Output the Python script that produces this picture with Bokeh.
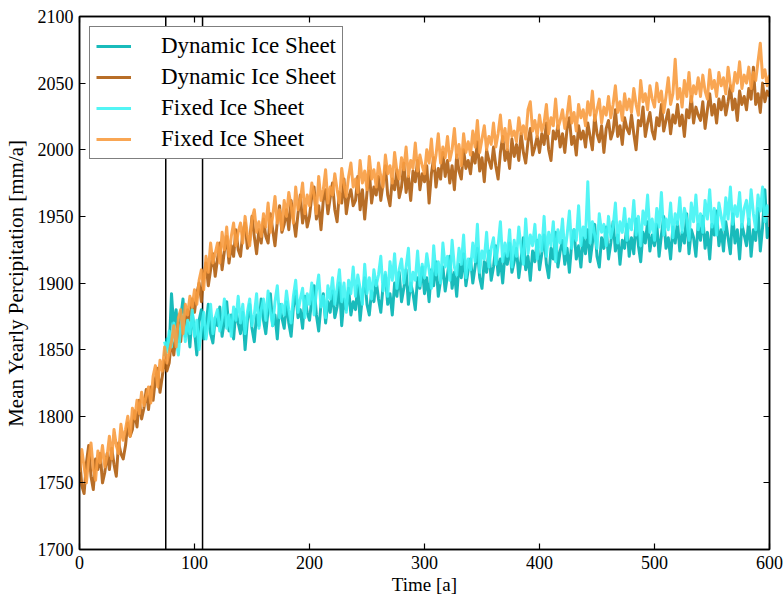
from bokeh.plotting import figure
from bokeh.models import (Legend, LegendItem, LinearAxis, SingleIntervalTicker, Span,
                          CustomJSTickFormatter)
from bokeh.embed import file_html
from bokeh.resources import INLINE

# ---------------------------------------------------------------------------
# Mean yearly precipitation [mm/a], one value every 2 years
# ---------------------------------------------------------------------------
step = 2
start_full = 0      # orange runs start at year 0
start_late = 74     # cyan runs start at year 74

dynamic_orange = [
    1770, 1748, 1742, 1765, 1778, 1755, 1745, 1768, 1760, 1772,
    1750, 1758, 1772, 1760, 1776, 1764, 1755, 1780, 1772, 1768,
    1778, 1795, 1785, 1790, 1804, 1792, 1812, 1798, 1806, 1820,
    1805, 1822, 1812, 1828, 1836, 1818, 1830, 1842, 1834, 1840,
    1858, 1846, 1862, 1870, 1856, 1875, 1868, 1880, 1872, 1888,
    1878, 1892, 1900, 1886, 1905, 1915, 1898, 1910, 1922, 1905,
    1918, 1930, 1910, 1924, 1935, 1915, 1928, 1920, 1940, 1925,
    1920, 1938, 1945, 1926, 1932, 1950, 1935, 1922, 1940, 1930,
    1948, 1935, 1930, 1952, 1940, 1928, 1946, 1958, 1938, 1944,
    1955, 1940, 1962, 1948, 1935, 1952, 1966, 1945, 1958, 1942,
    1950, 1965, 1972, 1948, 1958, 1940, 1962, 1970, 1952, 1964,
    1975, 1955, 1946, 1968, 1960, 1978, 1952, 1964, 1970, 1958,
    1962, 1980, 1955, 1970, 1948, 1968, 1984, 1960, 1972, 1966,
    1980, 1962, 1975, 1988, 1966, 1958, 1978, 1970, 1985, 1964,
    1972, 1990, 1968, 1980, 1962, 1984, 1976, 1992, 1970, 1982,
    1976, 1988, 1960, 1982, 1994, 1972, 1986, 1978, 1998, 1980,
    1992, 1975, 1988, 1970, 1996, 1984, 1978, 2000, 1986, 1992,
    1982, 1998, 1990, 2006, 1984, 1994, 1976, 2000, 1992, 1986,
    2002, 1988, 1978, 1998, 2010, 1992, 2000, 1986, 2008, 1995,
    2004, 1992, 2012, 1998, 1990, 2006, 2016, 1996, 2002, 2010,
    1998, 2012, 2004, 2020, 2000, 1992, 2014, 2008, 2018, 2002,
    2012, 1998, 2016, 2024, 2004, 2010, 1996, 2018, 2008, 2014,
    2002, 2020, 2010, 2000, 2026, 2012, 2006, 2018, 1998, 2016,
    2022, 2008, 2014, 2030, 2010, 2018, 2004, 2024, 2016, 2012,
    2026, 2012, 2000, 2022, 2018, 2032, 2010, 2020, 2028, 2014,
    2008, 2024, 2018, 2034, 2014, 2022, 2030, 2012, 2026, 2020,
    2034, 2018, 2026, 2010, 2030, 2024, 2040, 2020, 2032, 2026,
    2022, 2036, 2016, 2030, 2042, 2026, 2034, 2020, 2038, 2030,
    2040, 2026, 2036, 2048, 2030, 2038, 2022, 2044, 2034, 2040,
    2030, 2046, 2038, 2062, 2034, 2042, 2028, 2050, 2036, 2044,
    2040,
]

fixed_orange = [
    1758, 1775, 1762, 1750, 1768, 1780, 1760, 1752, 1774, 1765,
    1778, 1762, 1770, 1785, 1768, 1790, 1778, 1772, 1794, 1782,
    1790, 1800, 1785, 1806, 1798, 1812, 1802, 1818, 1808, 1815,
    1822, 1810, 1830, 1838, 1822, 1842, 1834, 1852, 1840, 1848,
    1856, 1868, 1852, 1874, 1880, 1862, 1884, 1876, 1890, 1882,
    1895, 1884, 1902, 1910, 1895, 1920, 1908, 1930, 1915, 1922,
    1930, 1915, 1938, 1925, 1942, 1920, 1935, 1945, 1928, 1938,
    1945, 1930, 1950, 1936, 1928, 1948, 1955, 1938, 1946, 1935,
    1952, 1942, 1960, 1938, 1950, 1965, 1945, 1955, 1940, 1962,
    1950, 1968, 1958, 1945, 1972, 1955, 1962, 1975, 1952, 1966,
    1958, 1975, 1966, 1952, 1980, 1962, 1970, 1985, 1960, 1972,
    1966, 1982, 1970, 1960, 1986, 1974, 1965, 1980, 1990, 1972,
    1978, 1968, 1992, 1975, 1984, 1970, 1995, 1978, 1985, 1972,
    1990, 1980, 1972, 1996, 1982, 1988, 1975, 1998, 1984, 1978,
    1994, 1985, 2002, 1980, 1992, 1986, 2005, 1984, 1996, 1988,
    1982, 2000, 1990, 2008, 1986, 1996, 2012, 1990, 2002, 1994,
    2010, 1992, 2000, 2016, 1994, 2004, 1988, 2012, 1998, 2006,
    1996, 2014, 2002, 2022, 1998, 2008, 2018, 2000, 2010, 2004,
    2020, 2002, 2012, 2026, 2006, 2016, 2000, 2022, 2010, 2014,
    2006, 2024, 2012, 2018, 2008, 2030, 2036, 2014, 2022, 2010,
    2026, 2014, 2020, 2034, 2012, 2024, 2018, 2038, 2016, 2022,
    2030, 2016, 2026, 2040, 2020, 2028, 2014, 2034, 2024, 2030,
    2018, 2036, 2026, 2044, 2022, 2030, 2038, 2020, 2032, 2026,
    2040, 2024, 2034, 2048, 2028, 2036, 2022, 2042, 2030, 2038,
    2028, 2046, 2034, 2026, 2052, 2036, 2042, 2030, 2048, 2038,
    2032, 2050, 2036, 2044, 2028, 2040, 2054, 2034, 2042, 2068,
    2038, 2046, 2032, 2052, 2040, 2058, 2036, 2048, 2042, 2054,
    2040, 2056, 2044, 2038, 2060, 2046, 2052, 2040, 2058, 2048,
    2054, 2042, 2062, 2048, 2044, 2058, 2050, 2066, 2046, 2056,
    2050, 2062, 2046, 2058, 2052, 2066, 2080, 2054, 2060, 2048,
    2056,
]

dynamic_cyan = [
    1845, 1858, 1850,
    1892, 1866, 1880, 1856, 1874, 1888, 1860, 1870, 1852, 1878,
    1864, 1846, 1872, 1880, 1858, 1868, 1884, 1862, 1855, 1874,
    1868, 1882, 1860, 1872, 1886, 1864, 1876, 1858, 1880, 1870,
    1862, 1878, 1850, 1872, 1884, 1866, 1856, 1876, 1868, 1888,
    1872, 1862, 1880, 1892, 1868, 1876, 1858, 1884, 1874, 1866,
    1886, 1870, 1860, 1882, 1894, 1874, 1880, 1866, 1890, 1878,
    1872, 1888, 1898, 1876, 1864, 1884, 1892, 1870, 1886, 1878,
    1894, 1874, 1882, 1900, 1868, 1888, 1880, 1896, 1876, 1886,
    1880, 1898, 1872, 1890, 1904, 1884, 1876, 1894, 1886, 1902,
    1888, 1878, 1898, 1906, 1884, 1892, 1876, 1900, 1890, 1908,
    1886, 1896, 1910, 1884, 1900, 1892, 1880, 1904, 1896, 1912,
    1892, 1904, 1886, 1910, 1898, 1916, 1890, 1902, 1912, 1894,
    1906, 1920, 1896, 1908, 1890, 1914, 1904, 1922, 1898, 1910,
    1918, 1900, 1912, 1926, 1904, 1896, 1916, 1908, 1924, 1902,
    1912, 1928, 1906, 1918, 1900, 1922, 1914, 1930, 1908, 1916,
    1926, 1904, 1918, 1934, 1910, 1920, 1902, 1924, 1916, 1932,
    1910, 1922, 1936, 1914, 1904, 1926, 1918, 1938, 1912, 1924,
    1932, 1914, 1926, 1908, 1930, 1940, 1918, 1928, 1912, 1934,
    1922, 1940, 1916, 1930, 1944, 1920, 1912, 1934, 1926, 1942,
    1918, 1930, 1946, 1924, 1936, 1914, 1932, 1926, 1944, 1920,
    1934, 1922, 1948, 1928, 1916, 1938, 1930, 1946, 1924, 1936,
    1928, 1944, 1920, 1936, 1950, 1926, 1934, 1918, 1942, 1930,
    1946, 1924, 1938, 1930, 1952, 1922, 1940, 1934, 1920, 1944,
    1932, 1950, 1926, 1938, 1918, 1944, 1936, 1954, 1928, 1940,
    1924, 1946, 1934, 1922, 1952, 1930, 1940, 1918, 1944, 1936,
    1928, 1948, 1920, 1940, 1932, 1956, 1924, 1942, 1970, 1934,
    1942,
]

fixed_cyan = [
    1856, 1848, 1864,
    1852, 1870, 1858, 1846, 1868, 1876, 1856, 1872, 1862, 1880,
    1860, 1872, 1850, 1866, 1878, 1858, 1870, 1884, 1862, 1874,
    1880, 1864, 1872, 1888, 1866, 1876, 1860, 1882, 1872, 1890,
    1870, 1884, 1862, 1878, 1888, 1868, 1876, 1892, 1866, 1880,
    1888, 1872, 1894, 1878, 1868, 1886, 1898, 1874, 1884, 1876,
    1894, 1880, 1870, 1890, 1902, 1878, 1888, 1896, 1874, 1892,
    1884, 1900, 1876, 1894, 1906, 1882, 1890, 1874, 1898, 1888,
    1904, 1884, 1896, 1910, 1886, 1900, 1878, 1902, 1892, 1912,
    1890, 1906, 1896, 1884, 1914, 1892, 1904, 1888, 1910, 1898,
    1906, 1920, 1894, 1908, 1890, 1916, 1902, 1922, 1896, 1910,
    1918, 1900, 1912, 1926, 1894, 1908, 1902, 1924, 1898, 1914,
    1904, 1922, 1910, 1896, 1928, 1906, 1916, 1900, 1930, 1912,
    1920, 1902, 1932, 1912, 1906, 1926, 1914, 1936, 1904, 1918,
    1910, 1930, 1916, 1944, 1908, 1924, 1918, 1938, 1912, 1926,
    1934, 1914, 1928, 1946, 1916, 1930, 1920, 1940, 1912, 1932,
    1920, 1942, 1926, 1914, 1948, 1922, 1936, 1928, 1944, 1918,
    1936, 1924, 1950, 1920, 1938, 1928, 1946, 1916, 1940, 1930,
    1948, 1922, 1936, 1954, 1926, 1940, 1932, 1958, 1928, 1942,
    1934, 1976, 1930, 1946, 1936, 1926, 1952, 1938, 1944, 1928,
    1950, 1934, 1942, 1960, 1930, 1946, 1938, 1956, 1932, 1948,
    1940, 1962, 1936, 1950, 1928, 1954, 1944, 1966, 1938, 1948,
    1932, 1956, 1942, 1968, 1936, 1948, 1940, 1960, 1934, 1952,
    1944, 1964, 1938, 1956, 1948, 1932, 1960, 1946, 1966, 1940,
    1952, 1938, 1962, 1948, 1970, 1942, 1956, 1936, 1960, 1950,
    1940, 1964, 1948, 1972, 1944, 1958, 1950, 1968, 1942, 1956,
    1962, 1944, 1970, 1952, 1940, 1966, 1954, 1972, 1946, 1958,
    1952,
]

# years marked by vertical lines
marker_years = [75, 107]

x_ticks_interval = 100
y_ticks_interval = 50


def years(start, values):
    return [start + step * i for i in range(len(values))]


FONT = "Liberation Serif"

p = figure(
    width=783, height=597,
    x_range=(0, 600), y_range=(1700, 2100),
    output_backend="svg", toolbar_location=None,
    min_border_left=79, min_border_right=14,
    min_border_top=16, min_border_bottom=46,
)
p.background_fill_color = "white"
p.border_fill_color = "white"
p.xgrid.visible = False
p.ygrid.visible = False
p.outline_line_color = "black"
p.outline_line_width = 1.5


def style_axis(ax, ticker, show_labels):
    ax.ticker = ticker
    ax.axis_line_color = "black"
    ax.axis_line_width = 1.5
    ax.major_tick_line_color = "black"
    ax.major_tick_line_width = 1.2
    ax.major_tick_in = 6
    ax.major_tick_out = 0
    ax.minor_tick_line_color = None
    ax.major_label_text_font = FONT
    ax.major_label_text_color = "black"
    ax.major_label_text_font_size = "18px"
    ax.axis_label_text_font = FONT
    ax.axis_label_text_font_style = "normal"
    ax.axis_label_text_color = "black"
    if not show_labels:
        # tick marks only on the mirrored sides
        ax.formatter = CustomJSTickFormatter(code="return ''")
        ax.major_label_standoff = 0


xt = SingleIntervalTicker(interval=x_ticks_interval, num_minor_ticks=0)
yt = SingleIntervalTicker(interval=y_ticks_interval, num_minor_ticks=0)

style_axis(p.xaxis[0], xt, True)
style_axis(p.yaxis[0], yt, True)
p.xaxis.axis_label = "Time [a]"
p.yaxis.axis_label = "Mean Yearly Percipitation [mm/a]"
p.xaxis.axis_label_text_font_size = "19px"
p.yaxis.axis_label_text_font_size = "21px"
p.xaxis.major_label_standoff = 6
p.xaxis.axis_label_standoff = 2
p.yaxis.major_label_standoff = 6
p.yaxis.axis_label_standoff = 7

top_axis = LinearAxis()
style_axis(top_axis, xt, False)
p.add_layout(top_axis, "above")
right_axis = LinearAxis()
style_axis(right_axis, yt, False)
p.add_layout(right_axis, "right")

for yr in marker_years:
    p.add_layout(Span(location=yr, dimension="height", line_color="black",
                      line_width=1.5, level="underlay"))

common = dict(line_width=3, line_alpha=0.9, line_join="round")
r_dc = p.line(years(start_late, dynamic_cyan), dynamic_cyan, line_color="#00b4b4", **common)
r_do = p.line(years(start_full, dynamic_orange), dynamic_orange, line_color="#b05e10", **common)
r_fc = p.line(years(start_late, fixed_cyan), fixed_cyan, line_color="#40f4f4", **common)
r_fo = p.line(years(start_full, fixed_orange), fixed_orange, line_color="#f89c40", **common)

legend = Legend(
    items=[
        LegendItem(label="Dynamic Ice Sheet", renderers=[r_dc]),
        LegendItem(label="Dynamic Ice Sheet", renderers=[r_do]),
        LegendItem(label="Fixed Ice Sheet", renderers=[r_fc]),
        LegendItem(label="Fixed Ice Sheet", renderers=[r_fo]),
    ],
    location="top_left",
    margin=10,
    padding=6,
    spacing=5,
    glyph_width=35,
    glyph_height=26,
    label_height=26,
    label_standoff=30,
    label_text_font=FONT,
    label_text_font_size="23px",
    label_text_color="black",
    border_line_color="black",
    border_line_width=1.2,
    background_fill_color="white",
    background_fill_alpha=1.0,
)
p.add_layout(legend)

open("out.html", "w").write(file_html(p, INLINE))
